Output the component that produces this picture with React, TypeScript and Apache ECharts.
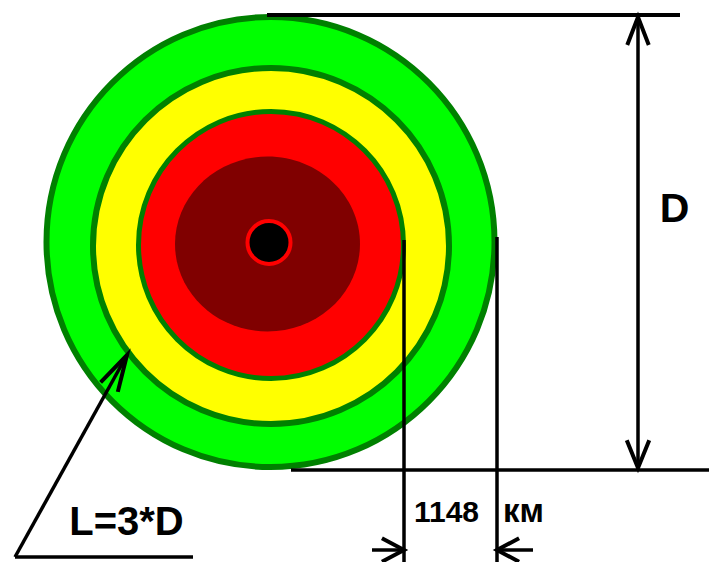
import React, { useEffect, useRef } from "react";
import * as echarts from "echarts";

// Zones of the circular diagram (outer to inner)
const zoneNames = ["green", "yellow", "red", "dark red", "core"];
const zoneCenterX = [270.5, 271, 271, 267.5, 269];
const zoneCenterY = [242, 246, 245, 244, 242.5];
const zoneRadiusX = [224, 178, 132.5, 92.5, 21.5];
const zoneRadiusY = [225, 178, 133.5, 87.5, 21.5];
const zoneFill = ["#00FF00", "#FFFF00", "#FF0000", "#800000", "#000000"];
const zoneStroke = ["#008000", "#008000", "#008000", null, "#FF0000"];
const zoneStrokeWidth = [6, 6, 5, 0, 4];

// Dimension / leader lines (x1, y1, x2, y2)
const segX1 = [267, 638, 291, 404, 497, 372, 497, 15, 15];
const segY1 = [15, 17, 470, 240, 237, 550, 550, 557, 557];
const segX2 = [680, 638, 709, 404, 497, 404, 533, 193, 127];
const segY2 = [15, 468, 470, 562, 562, 550, 550, 557, 355];
const segWidth = [4, 3.5, 3.5, 3.5, 3.5, 3.5, 3.5, 3.5, 3.5];

// Arrow heads: tip, direction source, barb length, half angle (deg)
const arrowTipX = [638, 638, 404, 497, 127];
const arrowTipY = [17, 468, 550, 550, 355];
const arrowFromX = [638, 638, 372, 533, 15];
const arrowFromY = [468, 17, 550, 550, 557];
const arrowLen = [30, 30, 25, 25, 38];
const arrowAngle = [21, 22, 28, 28, 15];

// Labels
const labelTexts = ["D", "1148", "км", "L=3*D"];
const labelX = [674.5, 446.5, 523.5, 126.5];
const labelY = [207.5, 511, 510, 520.5];
const labelSize = [41, 30, 33, 40];

const FONT = "'Liberation Sans', Arial, sans-serif";

export default function App() {
  const ref = useRef<HTMLDivElement>(null);
  useEffect(() => {
    if (!ref.current) return;
    const chart = echarts.init(ref.current, null, { renderer: "svg" });
    const zoneData = zoneNames.map((n, i) => ({
      name: n,
      value: [zoneCenterX[i], zoneCenterY[i], zoneRadiusX[i], zoneRadiusY[i], i],
    }));
    const segData = segX1.map((_, i) => [segX1[i], segY1[i], segX2[i], segY2[i], segWidth[i]]);
    const arrowData = arrowTipX.map((_, i) => [
      arrowTipX[i], arrowTipY[i], arrowFromX[i], arrowFromY[i], arrowLen[i], arrowAngle[i],
    ]);
    chart.setOption({
      animation: false,
      backgroundColor: "#ffffff",
      grid: { left: 0, right: 0, top: 0, bottom: 0 },
      xAxis: { type: "value", min: 0, max: 709, show: false },
      yAxis: { type: "value", min: 0, max: 562, inverse: true, show: false },
      series: [
        {
          type: "custom",
          coordinateSystem: "cartesian2d",
          clip: false,
          data: zoneData,
          renderItem: (params: any, api: any) => {
            const i = api.value(4);
            const c = api.coord([api.value(0), api.value(1)]);
            const s = api.size([api.value(2), api.value(3)]);
            return {
              type: "ellipse",
              shape: { cx: c[0], cy: c[1], rx: s[0], ry: s[1] },
              style: {
                fill: zoneFill[i],
                stroke: zoneStroke[i] || "none",
                lineWidth: zoneStrokeWidth[i],
              },
            };
          },
        },
        {
          type: "custom",
          coordinateSystem: "cartesian2d",
          clip: false,
          data: segData,
          renderItem: (params: any, api: any) => {
            const a = api.coord([api.value(0), api.value(1)]);
            const b = api.coord([api.value(2), api.value(3)]);
            return {
              type: "line",
              shape: { x1: a[0], y1: a[1], x2: b[0], y2: b[1] },
              style: { stroke: "#000", lineWidth: api.value(4) },
            };
          },
        },
        {
          type: "custom",
          coordinateSystem: "cartesian2d",
          clip: false,
          data: arrowData,
          renderItem: (params: any, api: any) => {
            const tx = api.value(0), ty = api.value(1);
            const fx = api.value(2), fy = api.value(3);
            const len = api.value(4), ang = (api.value(5) * Math.PI) / 180;
            const base = Math.atan2(fy - ty, fx - tx);
            const b1 = api.coord([tx + len * Math.cos(base + ang), ty + len * Math.sin(base + ang)]);
            const b2 = api.coord([tx + len * Math.cos(base - ang), ty + len * Math.sin(base - ang)]);
            const t = api.coord([tx, ty]);
            return {
              type: "polyline",
              shape: { points: [b1, t, b2] },
              style: { stroke: "#000", lineWidth: 4, fill: "none", lineJoin: "miter" },
            };
          },
        },
      ],
      graphic: labelTexts.map((t, i) => ({
        type: "text",
        x: labelX[i],
        y: labelY[i],
        style: {
          text: t,
          fill: "#000",
          font: `bold ${labelSize[i]}px ${FONT}`,
          align: "center",
          verticalAlign: "middle",
        },
      })),
    });
    return () => chart.dispose();
  }, []);
  return (
    <div
      ref={ref}
      style={{ position: "fixed", left: 0, top: 0, width: 709, height: 562 }}
    />
  );
}
